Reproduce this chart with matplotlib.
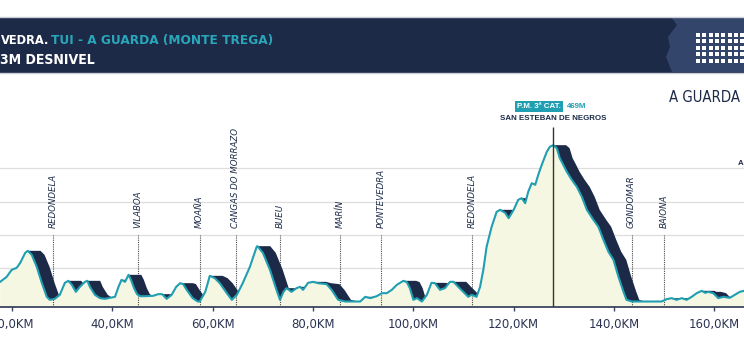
"""Perfil de etapa: Tui - A Guarda (Monte Trega)."""
import matplotlib
matplotlib.use("Agg")
import matplotlib.pyplot as plt
from matplotlib import font_manager as fm
from matplotlib.patches import Rectangle, Polygon
import numpy as np
import pandas as pd

NAVY = "#1c2a47"
NAVY_LIGHT = "#33456a"
TEAL = "#1f9fb1"
CREAM = "#f6f7e2"
GRID = "#dedede"
AXIS = "#3c4560"
BOLD = ["Liberation Sans", "DejaVu Sans"]


def narrow_font(bold=True):
    """Pick a condensed/narrow face if one is installed, else Liberation Sans."""
    cands = []
    for f in fm.fontManager.ttflist:
        n = f.name.lower()
        st = str(f.stretch).lower()
        if ("condensed" in n or "narrow" in n or "condensed" in st) and f.style == "normal":
            w = f.weight if isinstance(f.weight, int) else (700 if "bold" in str(f.weight) else 400)
            cands.append((abs(w - (700 if bold else 400)), "extra" in st or "ultra" in st, f.fname))
    if cands:
        cands.sort()
        return fm.FontProperties(fname=cands[0][2])
    return fm.FontProperties(family="Liberation Sans", weight="bold" if bold else "normal")


# ── Profile (km, metres) ─────────────────────────────────────
km = [17.6, 18.9, 19.9, 20.9, 21.6, 22.6, 23.1, 23.9, 24.9, 25.9,
      26.9, 27.5, 28.5, 29.5, 30.5, 31.2, 31.9, 32.7, 33.5, 34.5,
      35.0, 35.5, 36.5, 37.5, 38.5, 39.5, 40.5, 41.2, 41.8, 42.5,
      43.2, 43.7, 44.3, 44.9, 45.5, 46.5, 48.1, 49.1, 49.9, 50.8,
      51.8, 52.7, 53.5, 54.1, 54.8, 56.0, 57.0, 57.4, 58.5, 59.0,
      59.4, 60.4, 61.4, 62.8, 63.8, 64.8, 66.0, 67.4, 68.75, 68.9,
      70.0, 71.4, 72.7, 73.4, 74.1, 74.7, 75.7, 76.7, 77.4, 78.0,
      79.0, 80.0, 81.0, 82.7, 83.7, 85.0, 86.4, 87.4, 88.4, 89.4,
      90.4, 91.4, 92.7, 93.7, 94.7, 95.7, 96.7, 98.0, 98.7, 99.3,
      100.0, 100.7, 101.7, 102.7, 103.6, 104.3, 105.3, 106.3, 107.3, 108.0,
      108.95, 109.95, 110.95, 111.6, 112.6, 113.3, 113.95, 114.6, 115.6, 116.6,
      117.3, 118.3, 119.0, 120.0, 120.9, 121.6, 122.3, 122.9, 123.6, 124.3,
      124.9, 125.6, 126.6, 127.2, 127.9, 128.6, 129.2, 129.9, 130.6, 131.6,
      132.6, 133.6, 134.6, 135.9, 136.9, 137.9, 138.9, 139.9, 140.9, 141.9,
      142.5, 143.55, 145.2, 147.9, 149.5, 150.5, 151.5, 152.5, 153.5, 154.5,
      155.5, 156.5, 157.5, 158.2, 158.8, 159.8, 160.8, 161.8, 163.1, 164.1,
      165.1, 165.9, 166.5]
elev = [59, 74, 95, 101, 116, 146, 152, 140, 104, 56,
        14, 5, 8, 20, 56, 62, 50, 29, 44, 59,
        62, 44, 20, 10, 8, 11, 14, 44, 65, 59,
        80, 65, 40, 22, 16, 16, 17, 22, 22, 8,
        20, 44, 55, 52, 35, 10, 0, 0, 29, 55,
        77, 70, 55, 25, 5, 20, 56, 104, 164, 166,
        146, 95, 35, 5, 29, 40, 29, 40, 44, 35,
        56, 59, 55, 52, 35, 5, 0, 0, 0, 0,
        14, 10, 16, 25, 25, 35, 50, 62, 58, 40,
        5, 10, 0, 20, 56, 55, 35, 40, 59, 59,
        44, 29, 14, 20, 14, 44, 95, 164, 224, 269,
        275, 266, 250, 275, 305, 310, 295, 329, 355, 350,
        380, 410, 449, 464, 469, 460, 430, 410, 389, 365,
        344, 314, 275, 245, 224, 185, 149, 125, 74, 29,
        5, 0, 0, 0, 0, 7, 10, 5, 10, 5,
        14, 25, 32, 26, 29, 25, 10, 14, 11, 20,
        29, 32, 34]

towns = ["REDONDELA", "VILABOA", "MOAÑA", "CANGAS DO MORRAZO", "BUEU",
         "MARÍN", "PONTEVEDRA", "REDONDELA", "GONDOMAR", "BAIONA"]
town_km = [28.2, 45.0, 57.4, 64.6, 73.5, 85.4, 93.5, 111.7, 143.5, 150.0]

summit_km = 127.9
summit_alt = 469
summit_name = "SAN ESTEBAN DE NEGROS"
summit_cat = "P.M. 3ª CAT."

xticks = [20, 40, 60, 80, 100, 120, 140, 160]
xtick_labels = [f"{v},0KM" for v in xticks]
grid_levels = [100, 200, 300, 400]

# ── Figure / header band (pixel coords) ──────────────────────
W, H = 744, 350
fig = plt.figure(figsize=(W / 100, H / 100), dpi=100)
renderer = fig.canvas.get_renderer()
fp_head = narrow_font(bold=True)
fp_tick = narrow_font(bold=False)
# the available faces are wider than a display condensed font:
# give them a bit more room so the letters keep some height
STRETCH = 1.15


def fit_width(t, target):
    w = t.get_window_extent(renderer).width
    t.set_fontsize(t.get_fontsize() * target * STRETCH / w)


hdr = fig.add_axes([0, 0, 1, 1])
hdr.set_xlim(0, W)
hdr.set_ylim(H, 0)
hdr.axis("off")

hdr.add_patch(Rectangle((0, 17), W, 56, color=NAVY, lw=0))
hdr.plot([0, W], [17, 17], color="#c9ced8", lw=1)
hdr.plot([0, W], [73, 73], color="#c9ced8", lw=1)
hdr.add_patch(Polygon([(671, 17), (677, 25), (668, 37), (670, 47), (666, 57),
                       (672, 72), (W, 72), (W, 17)], closed=True,
                      color=NAVY_LIGHT, lw=0))
dot_x, dot_y = np.meshgrid(698 + 6.3 * np.arange(8), 34.5 + 6.5 * np.arange(5))
hdr.scatter(dot_x.ravel(), dot_y.ravel(), s=6, marker="s", color="white", lw=0)

t1 = hdr.text(0.5, 44, "VEDRA.", color="white", fontproperties=fp_head,
              fontsize=14, va="baseline")
fit_width(t1, 42.5)
t2 = hdr.annotate("TUI - A GUARDA (MONTE TREGA)", xy=(1, 0), xycoords=t1,
                  xytext=(2.5, 0), textcoords="offset pixels", va="bottom",
                  color="#2aa6bb", fontproperties=fp_head, fontsize=14)
fit_width(t2, 193)
t3 = hdr.text(0, 64, "3M DESNIVEL", color="white", fontproperties=fp_head,
              fontsize=12, va="baseline")
fit_width(t3, 83)

# ── Profile axes ─────────────────────────────────────────────
base_px, top_px = 306.7, 80
ax = fig.add_axes([0, (H - base_px) / H, 1, (base_px - top_px) / H])
ax.set_facecolor("none")
ax.set_xlim(17.57, 165.93)
ax.set_ylim(-15.6, 664.5)
ybot = ax.get_ylim()[0]

ax.set_yticks(grid_levels)
ax.yaxis.grid(True, color=GRID, lw=0.9)
ax.set_axisbelow(True)
ax.tick_params(axis="y", length=0, labelleft=False)
for s in ("top", "left", "right"):
    ax.spines[s].set_visible(False)
ax.spines["bottom"].set_color(AXIS)
ax.spines["bottom"].set_linewidth(1.3)

ax.set_xticks(xticks, xtick_labels)
ax.tick_params(axis="x", direction="inout", length=6, width=1, color=AXIS,
               pad=5, labelcolor="#2b3352")
probe = hdr.text(0, 0, xtick_labels[1], fontproperties=fp_tick, fontsize=11)
tick_size = 11 * 38 * STRETCH / probe.get_window_extent(renderer).width
probe.remove()
for lbl in ax.get_xticklabels():
    lbl.set_fontproperties(fp_tick)
    lbl.set_fontsize(tick_size)

ax.fill_between(km, elev, -40, color=CREAM, lw=0, zorder=1)

# dark extrusion on the descents: running max over a 2.6 km window
xs = np.arange(km[0], km[-1], 0.05)
ys = np.interp(xs, km, elev)
top = pd.Series(ys).rolling(int(2.6 / 0.05), min_periods=1).max().values
ax.fill_between(xs, ys, top, where=top > ys + 0.5, interpolate=True,
                color=NAVY, lw=0, zorder=3)
ax.plot(km, elev, color=TEAL, lw=1.5, zorder=4, solid_joinstyle="round")

ax.vlines(town_km, ybot, 200, colors="#4a4a4a", linestyles=(0, (1, 1)),
          lw=0.8, zorder=2.5)
for name, k in zip(towns, town_km):
    ax.text(k, 220, name, rotation=90, ha="center", va="bottom", fontsize=6.2,
            style="italic", color=NAVY, zorder=5)

ax.vlines(summit_km, ybot, 523, colors="#333333", lw=1, zorder=5)
ax.text(summit_km, 550, summit_name, ha="center", va="center", fontsize=5.7,
        weight="bold", color=NAVY, family=BOLD)
ax.text(129.4, 586, summit_cat, ha="right", va="center", fontsize=5.7,
        weight="bold", color="white", family=BOLD,
        bbox=dict(boxstyle="square,pad=0.25", fc=TEAL, ec="none"))
ax.text(130.6, 586, f"{summit_alt}M", ha="left", va="center", fontsize=5.7,
        weight="bold", color=TEAL, family=BOLD)

tg = ax.text(165.1, 612, "A GUARDA", ha="right", va="center", fontsize=16,
             color=NAVY, fontproperties=fp_tick, clip_on=False)
fit_width(tg, 62)
ax.text(164.7, 415, "A", ha="left", va="center", fontsize=5.7, weight="bold",
        color=NAVY, family=BOLD, clip_on=False)

fig.savefig("out.png", dpi=100, facecolor="white")
plt.close(fig)
